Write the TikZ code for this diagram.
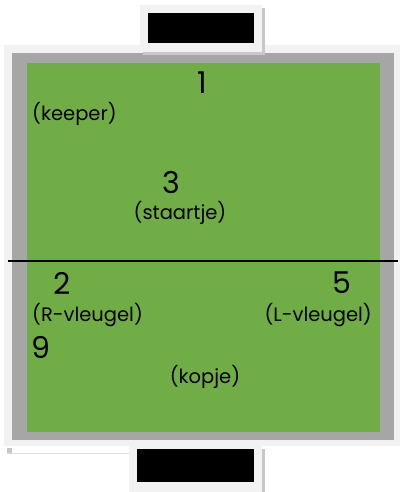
\documentclass[tikz,border=0pt]{standalone}
\usepackage{fontspec}
\setmainfont{Poppins}
\definecolor{pitchgreen}{HTML}{70AD47}
\definecolor{framegray}{HTML}{A6A6A6}
\definecolor{bordergray}{HTML}{F2F2F2}
\definecolor{shadowgray}{HTML}{C8C8C8}
\usetikzlibrary{positioning}

\begin{document}
\begin{tikzpicture}[x=1pt,y=-1pt,
		nummer/.style={font=\fontsize{30}{30}\selectfont,inner sep=0pt},
		rol/.style={font=\fontsize{19.5}{19.5}\selectfont,inner sep=0pt}]
	\useasboundingbox (0,0) rectangle (400,492);
	
	% veld met rand
	\fill[shadowgray] (7,448) rectangle (12,453);
	\draw[shadowgray!60,line width=1pt] (7,453) -- (130,453);
	\fill[bordergray] (4,45) rectangle (400,446);
	\fill[framegray] (12,53) rectangle (394,440);
	\fill[pitchgreen] (27,63) rectangle (380,432);
	
	% doelen
	\fill[shadowgray] (143,8) rectangle (265,55);
	\fill[bordergray] (140,5) rectangle (262,52);
	\fill[black] (148,13) rectangle (254,43);
	\fill[shadowgray] (132,449) rectangle (265,492);
	\fill[bordergray] (129,446) rectangle (262,492);
	\fill[black] (137,449) rectangle (254,482);
	
	% middenlijn
	\coordinate (midL) at (8,261);
	\coordinate (midR) at (398,261);
	\draw[line width=1.2pt] (midL) -- (midR);
	
	% spelers
	\node[nummer] (een) at (202,83) {1};
	\node[rol,anchor=west] (keeper) at (32,114) {(keeper)};
	
	\node[nummer] (drie) at (171,183) {3};
	\node[rol] (staartje) at (180,213) {(staartje)};
	
	\node[nummer] (twee) at (62,283) {2};
	\node[rol,anchor=west] (rvleugel) at (32,315) {(R-vleugel)};
	
	\node[nummer] (vijf) at (342,283) {5};
	\node[rol,anchor=east] (lvleugel) at (372,315) {(L-vleugel)};
	
	\node[nummer,anchor=west] (negen) at (31,347) {9};
	\node[rol] (kopje) at (205,377) {(kopje)};
	
\end{tikzpicture}
\end{document}
